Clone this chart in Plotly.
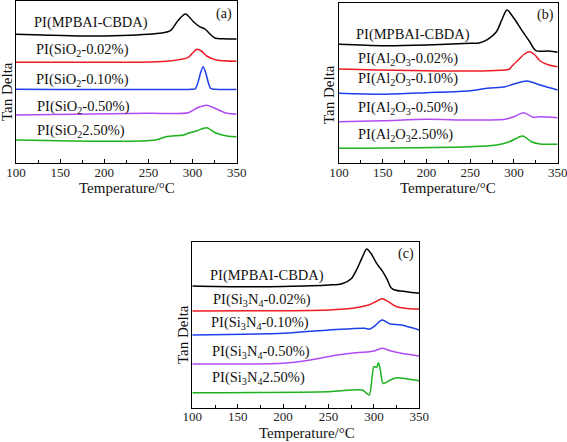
import plotly.graph_objects as go

FONT = "Liberation Serif, Times New Roman, serif"
COLORS = ["#000000", "#ee1c24", "#1f3fe8", "#b04cf2", "#1db21d"]

# ---------------- Panel (a): SiO2 ----------------
a_black_x = [100, 130, 175, 220, 250, 265, 275, 284, 292, 301, 308, 314, 320, 326, 335, 350]
a_black_y = [128.7, 128, 127, 127.5, 128.7, 130, 132.3, 143, 149, 141.3, 136.3, 134, 128.7, 124.7, 124.3, 124]
a_red_x = [100, 200, 250, 274, 295, 300, 305, 310, 316, 327, 350]
a_red_y = [100.7, 100.7, 101, 102, 105.7, 110, 113.7, 112, 107, 103, 101.7]
a_blue_x = [100, 300, 303, 306, 309, 312, 315, 318, 320.5, 325, 350]
a_blue_y = [73.7, 73.7, 74, 80, 90, 96.3, 90, 80, 74.5, 73.7, 73.5]
a_purple_x = [100, 250, 295, 305, 316, 327, 339, 350]
a_purple_y = [48, 49.7, 50.3, 55, 57.7, 54, 49.7, 49]
a_green_x = [100, 258, 270, 290, 295, 305, 316, 327, 339, 350]
a_green_y = [23, 23, 26.3, 28, 29.7, 32.3, 35.3, 29.7, 27, 26.3]
a_labels = ["PI(MPBAI-CBDA)", "PI(SiO<sub>2</sub>-0.02%)", "PI(SiO<sub>2</sub>-0.10%)",
            "PI(SiO<sub>2</sub>-0.50%)", "PI(SiO<sub>2</sub>2.50%)"]

# ---------------- Panel (b): Al2O3 ----------------
b_black_x = [100, 150, 200, 250, 260, 270, 280, 286, 292, 300, 310, 318, 325, 340, 350]
b_black_y = [118.7, 117.3, 118, 119.7, 120, 123.7, 131.3, 143, 153, 144.7, 131.3, 121.3, 112.3, 112, 110.7]
b_red_x = [100, 295, 297, 305, 312, 318, 324, 330, 340, 350]
b_red_y = [94, 94, 96.3, 103, 109, 111.3, 108, 102, 98, 96.3]
b_blue_x = [100, 150, 200, 250, 270, 290, 300, 315, 330, 350]
b_blue_y = [69.7, 68.7, 70.3, 72.3, 74.7, 76.3, 79, 82, 78, 73]
b_purple_x = [100, 150, 200, 250, 290, 300, 311, 322, 330, 350]
b_purple_y = [41.3, 42.3, 43.7, 43, 43.7, 46.3, 50.3, 45.7, 46.3, 45.3]
b_green_x = [100, 250, 280, 295, 310, 320, 330, 350]
b_green_y = [14.7, 16.3, 18, 21.3, 27, 21.3, 19, 18.7]
b_labels = ["PI(MPBAI-CBDA)", "PI(Al<sub>2</sub>O<sub>3</sub>-0.02%)", "PI(Al<sub>2</sub>O<sub>3</sub>-0.10%)",
            "PI(Al<sub>2</sub>O<sub>3</sub>-0.50%)", "PI(Al<sub>2</sub>O<sub>3</sub>2.50%)"]

# ---------------- Panel (c): Si3N4 ----------------
c_black_x = [100, 150, 200, 250, 265, 275, 281, 287, 292, 297, 303, 309, 314, 319, 323, 336, 350]
c_black_y = [121.7, 121, 121.3, 122.7, 124, 129, 138, 150, 158.7, 154, 144.3, 137, 129.3, 120, 117.7, 116, 114.4]
c_red_x = [100, 200, 250, 280, 295, 302, 309, 316, 325, 340, 350]
c_red_y = [96.7, 97, 97.7, 100, 103, 106, 109, 106, 101, 99, 98.7]
c_blue_x = [100, 200, 250, 275, 290, 295, 300, 309, 318, 330, 350]
c_blue_y = [72.7, 74.4, 77.7, 79, 79.4, 78.5, 81, 87.7, 83.7, 82.7, 77.7]
c_purple_x = [100, 200, 230, 260, 280, 295, 300, 309, 318, 330, 350]
c_purple_y = [43.7, 44.4, 47.7, 52.7, 55, 56, 56.7, 59.4, 57, 54.4, 51.7]
c_green_x = [100, 250, 287, 292, 295, 298, 300, 303, 305, 307, 310, 313, 318, 325, 335, 350]
c_green_y = [15, 16, 17.7, 14.4, 12.7, 30.4, 41, 40.4, 45, 38, 24.4, 25, 27.7, 30, 29, 27]
c_labels = ["PI(MPBAI-CBDA)", "PI(Si<sub>3</sub>N<sub>4</sub>-0.02%)", "PI(Si<sub>3</sub>N<sub>4</sub>-0.10%)",
            "PI(Si<sub>3</sub>N<sub>4</sub>-0.50%)", "PI(Si<sub>3</sub>N<sub>4</sub>2.50%)"]

tick_vals = [100, 150, 200, 250, 300, 350]
tick_text = ["100", "150", "200", "250", "300", "350"]

panels = [
    dict(tag="(a)", xa="x", ya="y",
         series=[(a_black_x, a_black_y), (a_red_x, a_red_y), (a_blue_x, a_blue_y),
                 (a_purple_x, a_purple_y), (a_green_x, a_green_y)],
         labels=a_labels,
         label_pos=[(119, 140), (121.5, 113), (121.5, 83), (122.6, 56), (122.6, 32)],
         tag_pos=(346, 149),
         xdom=[16 / 567, 236.7 / 567], ydom=[1 - 163 / 442, 1 - 1 / 442], yr=[0, 162],
         ytitle=(7, 92), xtitle=(127, 188)),
    dict(tag="(b)", xa="x2", ya="y2",
         series=[(b_black_x, b_black_y), (b_red_x, b_red_y), (b_blue_x, b_blue_y),
                 (b_purple_x, b_purple_y), (b_green_x, b_green_y)],
         labels=b_labels,
         label_pos=[(118.3, 128), (120.2, 104), (120.2, 84), (120.6, 55), (120.6, 28)],
         tag_pos=(347, 148),
         xdom=[339 / 567, 557.7 / 567], ydom=[1 - 163 / 442, 1 - 3 / 442], yr=[0, 160],
         ytitle=(329, 95), xtitle=(448, 188)),
    dict(tag="(c)", xa="x3", ya="y3",
         series=[(c_black_x, c_black_y), (c_red_x, c_red_y), (c_blue_x, c_blue_y),
                 (c_purple_x, c_purple_y), (c_green_x, c_green_y)],
         labels=c_labels,
         label_pos=[(118.4, 132.7), (121.4, 107.7), (119.5, 84.4), (120.6, 56), (120.6, 29.4)],
         tag_pos=(345.3, 153.7),
         xdom=[192.3 / 567, 419.3 / 567], ydom=[1 - 407.7 / 442, 1 - 242.3 / 442], yr=[0, 165.4],
         ytitle=(183, 335), xtitle=(307, 433)),
]

fig = go.Figure()
annotations = []
layout = dict(
    template="none",
    width=567, height=442, margin=dict(l=0, r=0, t=0, b=0, pad=0, autoexpand=False),
    paper_bgcolor="white", plot_bgcolor="white", showlegend=False,
    font=dict(family=FONT, color="#000000", size=14),
)

for i, p in enumerate(panels):
    for (xs, ys), col in zip(p["series"], COLORS):
        fig.add_trace(go.Scatter(x=xs, y=ys, mode="lines", xaxis=p["xa"], yaxis=p["ya"],
                                 line=dict(color=col, width=1.5, shape="spline", smoothing=0.8),
                                 hoverinfo="skip"))
    suffix = "" if i == 0 else str(i + 1)
    layout["xaxis" + suffix] = dict(
        domain=p["xdom"], range=[100, 350], anchor=p["ya"], automargin=False,
        showline=True, mirror=True, linecolor="black", linewidth=1.3,
        ticks="inside", ticklen=4, tickwidth=1, tickcolor="black",
        tickvals=tick_vals, ticktext=tick_text, ticklabelstandoff=-3,
        ticklabeloverflow="allow",
        tickfont=dict(family=FONT, size=13, color="#222222"),
        minor=dict(ticks="inside", ticklen=2.5, tickwidth=1, tickcolor="black", dtick=25, tick0=100),
        showgrid=False, zeroline=False, fixedrange=True,
    )
    layout["yaxis" + suffix] = dict(
        domain=p["ydom"], range=p["yr"], anchor=p["xa"], automargin=False,
        showline=True, mirror=True, linecolor="black", linewidth=1.3,
        ticks="", showticklabels=False, showgrid=False, zeroline=False, fixedrange=True,
    )
    for txt, (lx, ly) in zip(p["labels"], p["label_pos"]):
        annotations.append(dict(text=txt, x=lx, y=ly, xref=p["xa"], yref=p["ya"],
                                xanchor="left", yanchor="middle", align="left", showarrow=False,
                                borderpad=0, font=dict(family=FONT, size=14.5, color="#111111")))
    annotations.append(dict(text=p["tag"], x=p["tag_pos"][0], y=p["tag_pos"][1],
                            xref=p["xa"], yref=p["ya"], xanchor="right", yanchor="middle",
                            showarrow=False, borderpad=0,
                            font=dict(family=FONT, size=14, color="#111111")))
    annotations.append(dict(text="Tan Delta", x=p["ytitle"][0] / 567, y=1 - p["ytitle"][1] / 442,
                            xref="paper", yref="paper", xanchor="center", yanchor="middle",
                            textangle=-90, showarrow=False,
                            font=dict(family=FONT, size=15, color="#111111")))
    annotations.append(dict(text="Temperature/°C", x=p["xtitle"][0] / 567, y=1 - p["xtitle"][1] / 442,
                            xref="paper", yref="paper", xanchor="center", yanchor="middle",
                            showarrow=False, font=dict(family=FONT, size=15, color="#111111")))

layout["annotations"] = annotations
fig.update_layout(**layout)
fig.write_html("out.html", config={"displayModeBar": False},
               post_script="document.body.style.margin='0';document.body.style.overflow='hidden';")
